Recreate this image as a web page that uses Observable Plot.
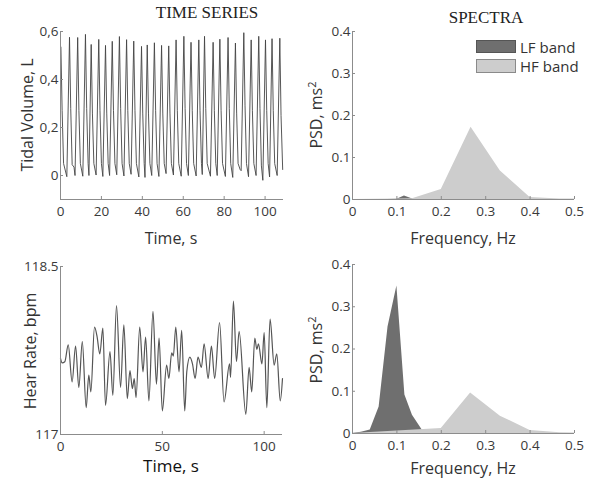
<!DOCTYPE html>
<html><head><meta charset="utf-8">
<script src="https://cdn.jsdelivr.net/npm/d3@7"></script>
<script src="https://cdn.jsdelivr.net/npm/@observablehq/plot@0.6"></script>
<style>
body{margin:0;background:#fff;}
#wrap{position:relative;width:600px;height:480px;overflow:hidden;font-family:"Open Sans",sans-serif;color:#333;}
.p{position:absolute;}
.lbl{position:absolute;font-size:16px;line-height:1;white-space:nowrap;transform:translate(-50%,-50%);color:#333;}
.rot{transform:translate(-50%,-50%) rotate(-90deg);}
.ttl{position:absolute;font-family:"Liberation Serif",serif;font-size:17px;line-height:1;transform:translate(-50%,-50%);white-space:nowrap;color:#222;}
.sw{position:absolute;box-sizing:border-box;}
.lg{position:absolute;font-size:15px;line-height:1;transform:translateY(-50%);white-space:nowrap;color:#333;}
</style></head><body><div id="wrap"></div>
<script>
// ---- Tidal volume time series (time in s, volume in L) ----
const tvTime = [0.2,0.8,1.5,
 3.1,4.4,5.0,5.7,6.6,
 7.1,8.4,9.0,9.7,
 10.9,12.2,12.8,13.5,
 13.9,15.0,15.6,16.3,
 17.4,18.7,19.3,20.0,
 20.7,22.0,22.6,23.3,
 24.0,25.3,25.9,26.6,
 27.5,28.8,29.4,30.1,
 31.0,32.3,32.9,33.6,
 34.5,35.8,36.4,37.1,
 38.3,39.6,40.2,40.9,
 41.3,42.4,43.0,43.7,
 44.6,45.9,46.5,47.2,
 48.1,49.4,50.0,50.7,
 51.6,52.9,53.5,54.2,
 55.2,56.5,57.1,57.8,
 59.0,60.3,60.9,61.6,
 62.5,63.8,64.4,65.1,
 66.3,67.6,68.2,68.9,
 69.3,70.4,71.0,71.7,
 73.3,74.6,75.2,75.9,
 76.6,77.9,78.5,79.2,
 80.6,81.9,82.5,83.2,
 84.2,85.5,86.1,86.8,87.8,
 88.3,89.6,90.2,90.9,
 91.9,93.2,93.8,94.5,
 95.6,96.9,97.5,98.2,
 98.9,100.2,100.8,101.5,
 102.2,103.4,104.0,104.7,
 105.9,107.2,107.8,108.6];
const tvVolume = [0.535,0.27,0.05,
 -0.005,0.576,0.28,0.045,0.035,
 0.0,0.575,0.27,0.05,
 -0.003,0.588,0.28,0.05,
 0.0,0.546,0.26,0.05,
 0.002,0.567,0.27,0.05,
 -0.004,0.542,0.26,0.05,
 0.0,0.559,0.27,0.05,
 0.003,0.579,0.28,0.05,
 -0.002,0.566,0.27,0.05,
 0.005,0.560,0.27,0.05,
 -0.006,0.538,0.26,0.05,
 -0.008,0.544,0.26,0.05,
 0.0,0.553,0.27,0.05,
 -0.004,0.542,0.26,0.05,
 0.008,0.540,0.26,0.05,
 0.002,0.565,0.27,0.05,
 -0.003,0.580,0.28,0.05,
 0.0,0.555,0.27,0.05,
 -0.002,0.565,0.27,0.05,
 0.004,0.580,0.28,0.05,
 -0.003,0.555,0.27,0.05,
 0.0,0.568,0.27,0.05,
 -0.004,0.575,0.28,0.05,
 -0.008,0.552,0.26,0.05,0.025,
 0.02,0.595,0.29,0.05,
 -0.005,0.565,0.27,0.05,
 0.0,0.580,0.28,0.04,
 -0.02,0.565,0.27,0.05,
 -0.006,0.570,0.27,0.05,
 0.0,0.572,0.25,0.025];

// ---- Heart rate time series (time in s, bpm) ----
const hrTime = [0,0.8,2.1,3.8,5.7,7.4,9.0,10.7,12.6,13.9,14.9,16.7,17.9,19.3,20.8,22.1,24.3,25.7,27.5,29.5,31.1,32.8,34.1,35.3,36.2,37.1,38.9,40.5,41.8,43.4,45.4,47.1,48.4,50.0,52.1,53.2,54.6,55.4,56.6,58.2,59.5,61.0,62.0,63.5,64.8,66.1,67.5,69.2,70.5,72.5,74.1,75.7,78.1,80.3,83.0,83.5,84.9,86.4,87.7,91.0,92.6,93.9,95.4,96.4,97.2,98.9,100.0,101.3,102.9,104.9,106.2,107.9,109.0];
const hrBpm = [117.68,117.64,117.65,117.80,117.47,117.79,117.42,117.83,117.24,117.53,117.38,117.96,117.88,117.72,117.95,117.26,117.74,117.35,118.15,117.42,117.98,117.32,117.57,117.41,117.50,117.33,117.96,117.56,117.87,117.30,118.10,117.45,117.86,117.21,117.62,117.50,117.73,117.70,117.96,117.56,117.93,117.21,117.56,117.69,117.63,117.50,117.69,117.60,117.81,117.50,117.79,117.50,118.00,117.29,117.63,117.51,118.19,117.65,117.92,117.18,117.60,117.38,117.86,117.76,117.81,117.63,117.91,117.24,118.03,117.62,117.72,117.30,117.50];

// ---- Spectra of tidal volume (top) ----
const lfTopFreq = [0,0.08,0.1,0.117,0.137,0.156];
const lfTopPsd  = [0,0,0.0005,0.0085,0.0005,0];
const hfTopFreq = [0,0.1,0.135,0.2,0.267,0.333,0.4,0.467,0.5];
const hfTopPsd  = [0,0.001,0.002,0.024,0.172,0.068,0.005,0.001,0.001];

// ---- Spectra of heart rate (bottom) ----
const lfBotFreq = [0,0.02,0.04,0.06,0.08,0.1,0.118,0.135,0.157,0.175];
const lfBotPsd  = [0,0.003,0.008,0.063,0.252,0.349,0.091,0.043,0.008,0];
const hfBotFreq = [0,0.1,0.2,0.266,0.333,0.4,0.467,0.5];
const hfBotPsd  = [0,0.006,0.012,0.096,0.041,0.007,0.002,0.001];

// tick values
const tvTicksX = [0,20,40,60,80,100];
const tvTicksY = [0,0.2,0.4,0.6];
const hrTicksX = [0,50,100];
const hrTicksY = [117,118.5];
const spTicksX = [0,0.1,0.2,0.3,0.4,0.5];
const spTicksY = [0,0.1,0.2,0.3,0.4];

const LF_COLOR = "#6f6f6f", HF_COLOR = "#cdcdcd", AX = "#8c8c8c";
const wrap = document.getElementById("wrap");
const zip = (a, b) => a.map((v, i) => ({x: v, y: b[i]}));

function panel(o) {
  const svg = Plot.plot({
    width: o.w, height: o.h,
    marginTop: o.mt, marginRight: o.mr, marginBottom: o.mb, marginLeft: o.ml,
    style: {fontFamily: '"Open Sans", sans-serif', fontSize: "13.5px", color: "#333", background: "transparent", overflow: "visible"},
    x: {domain: o.xd}, y: {domain: o.yd},
    marks: [
      ...o.marks,
      Plot.ruleX([o.xd[0]], {stroke: AX}),
      Plot.ruleY([o.yd[0]], {stroke: AX}),
      Plot.axisX({ticks: o.xt, tickFormat: o.xf, tickSize: -3, tickPadding: 10, stroke: AX, fill: "#3a3a3a", label: null}),
      Plot.axisY({ticks: o.yt, tickFormat: o.yf, tickSize: -3, tickPadding: 5, stroke: AX, fill: "#3a3a3a", label: null})
    ]
  });
  svg.classList.add("p");
  svg.style.left = o.left + "px";
  svg.style.top = o.top + "px";
  wrap.appendChild(svg);
}
const comma = d => d === 0 ? "0" : String(d).replace(".", ",");
const plain = d => String(d);

panel({left: 0, top: 0, w: 300, h: 240, mt: 31, mr: 17, mb: 41, ml: 60,
  xd: [0, 109], yd: [-0.1, 0.6], xt: tvTicksX, yt: tvTicksY, xf: plain, yf: comma,
  marks: [Plot.line(zip(tvTime, tvVolume), {x: "x", y: "y", stroke: "#444", strokeWidth: 0.9})]});

panel({left: 300, top: 0, w: 300, h: 240, mt: 31, mr: 26, mb: 41, ml: 52,
  xd: [0, 0.5], yd: [0, 0.4], xt: spTicksX, yt: spTicksY, xf: plain, yf: plain,
  marks: [
    Plot.areaY(zip(lfTopFreq, lfTopPsd), {x: "x", y: "y", fill: LF_COLOR}),
    Plot.areaY(zip(hfTopFreq, hfTopPsd), {x: "x", y: "y", fill: HF_COLOR})
  ]});

panel({left: 0, top: 240, w: 300, h: 240, mt: 26, mr: 18, mb: 46, ml: 60,
  xd: [0, 109], yd: [117, 118.5], xt: hrTicksX, yt: hrTicksY, xf: plain, yf: plain,
  marks: [Plot.line(zip(hrTime, hrBpm), {x: "x", y: "y", stroke: "#555", strokeWidth: 1.2, curve: "monotone-x"})]});

panel({left: 300, top: 240, w: 300, h: 240, mt: 24, mr: 26, mb: 47, ml: 52,
  xd: [0, 0.5], yd: [0, 0.4], xt: spTicksX, yt: spTicksY, xf: plain, yf: plain,
  marks: [
    Plot.areaY(zip(lfBotFreq, lfBotPsd), {x: "x", y: "y", fill: LF_COLOR}),
    Plot.areaY(zip(hfBotFreq, hfBotPsd), {x: "x", y: "y", fill: HF_COLOR})
  ]});

function addText(cls, html, x, y, extra) {
  const d = document.createElement("div");
  d.className = cls;
  d.innerHTML = html;
  d.style.left = x + "px";
  d.style.top = y + "px";
  if (extra) Object.assign(d.style, extra);
  wrap.appendChild(d);
}
addText("ttl", "TIME SERIES", 207, 12);
addText("ttl", "SPECTRA", 486, 17);
addText("lbl rot", "Tidal Volume, L", 27, 115);
addText("lbl", "Time, s", 171, 238);
addText("lbl rot", "PSD, ms<sup style='font-size:11px;vertical-align:6px;line-height:0'>2</sup>", 316, 115);
addText("lbl", "Frequency, Hz", 463, 238);
addText("lbl rot", "Hear Rate, bpm", 30, 351);
addText("lbl", "Time, s", 171, 465, {fontSize: "17px", fontWeight: "500", color: "#111"});
addText("lbl rot", "PSD, ms<sup style='font-size:11px;vertical-align:6px;line-height:0'>2</sup>", 316, 350);
addText("lbl", "Frequency, Hz", 463, 468);

// legend
addText("sw", "", 476, 40, {width: "40px", height: "13px", background: LF_COLOR, border: "1px solid #555"});
addText("sw", "", 476, 59, {width: "40px", height: "14px", background: HF_COLOR, border: "1px solid #8a8a8a"});
addText("lg", "LF band", 520, 47);
addText("lg", "HF band", 520, 66);
</script>
</body></html>
